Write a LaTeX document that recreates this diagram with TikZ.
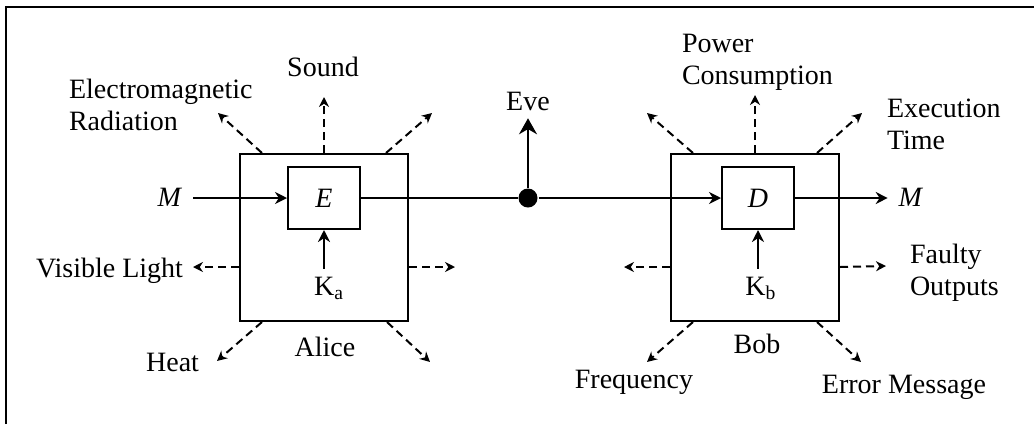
\documentclass[tikz,border=0pt]{standalone}
\usepackage{fontspec}
\setmainfont{Liberation Serif}
\usetikzlibrary{arrows.meta}
\usetikzlibrary{positioning}

\begin{document}
\begin{tikzpicture}[x=0.5pt, y=-0.5pt, line width=1pt,
    font=\fontsize{14}{16}\selectfont,
    party/.style={rectangle, draw, inner sep=0pt, minimum width=84pt, minimum height=83.5pt},
    cipher/.style={rectangle, draw, inner sep=0pt, minimum width=36pt, minimum height=31pt},
    lbl/.style={inner sep=0pt, align=left},
    tag/.style={inner xsep=5pt, inner ysep=3.5pt},
    flow/.style={-{Stealth[length=6pt, width=6pt]}},
    tapflow/.style={-{Stealth[length=8pt, width=9pt]}},
    leak/.style={dash pattern=on 4pt off 2.5pt, -{Stealth[length=5pt, width=5pt]}}]
    \useasboundingbox (0,0) rectangle (1034,424);
    \draw (6,424) -- (6,7) -- (1034,7);

    \node[party] (alice) at (324,237.5) {};
    \node[party] (bob) at (755,237.5) {};
    \node[cipher] (enc) at (324,198) {\textit{E}};
    \node[cipher] (dec) at (758,198) {\textit{D}};
    \node[circle, fill, inner sep=0pt, minimum size=9.5pt] (tap) at (528,198) {};

    \node[tag, anchor=base] (min) at (170,206) {\textit{M}};
    \node[tag, anchor=base] (mout) at (911,206) {\textit{M}};
    \node[tag, anchor=base] (eve) at (528,110) {Eve};
    \node[tag, anchor=base] (ka) at (329,295) {K\textsubscript{a}};
    \node[tag, anchor=base] (kb) at (761,295) {K\textsubscript{b}};
    \node[lbl, anchor=base] (alicename) at (325,356) {Alice};
    \node[lbl, anchor=base] (bobname) at (757,353) {Bob};

    \draw[flow] (min.east |- enc) -- (enc);
    \draw (enc) -- (tap);
    \draw[flow] (tap) -- (dec);
    \draw[flow] (dec) -- (mout.west |- dec);
    \draw[tapflow] (tap) -- (tap |- eve.south);
    \draw[flow] (ka.north -| enc) -- (enc);
    \draw[flow] (kb.north -| dec) -- (dec);

    % side channels of Alice
    \coordinate (a1) at (218,113);
    \coordinate (a2) at (324,97);
    \coordinate (a3) at (432,113);
    \coordinate (a4) at (193,267);
    \coordinate (a5) at (455,267);
    \coordinate (a6) at (217,361);
    \coordinate (a7) at (430,362);
    \draw[leak] ([xshift=11.5pt]alice.north west) -- (a1);
    \draw[leak] (alice.north) -- (a2);
    \draw[leak] ([xshift=-11.5pt]alice.north east) -- (a3);
    \draw[leak] ([yshift=-14.75pt]alice.west) -- (a4);
    \draw[leak] ([yshift=-14.75pt]alice.east) -- (a5);
    \draw[leak] ([xshift=11.5pt]alice.south west) -- (a6);
    \draw[leak] ([xshift=-11pt]alice.south east) -- (a7);
    \node[lbl, anchor=north west] (emr) at (68,78) {Electromagnetic\\Radiation};
    \node[lbl, anchor=base] (sound) at (323,76) {Sound};
    \node[lbl, anchor=base east] (light) at (184,277) {Visible Light};
    \node[lbl, anchor=base east] (heat) at (200,371) {Heat};

    % side channels of Bob
    \coordinate (b1) at (647,113);
    \coordinate (b2) at (755,95);
    \coordinate (b3) at (862,113);
    \coordinate (b4) at (624,267);
    \coordinate (b5) at (886,266);
    \coordinate (b6) at (647,362);
    \coordinate (b7) at (861,362);
    \draw[leak] ([xshift=11.5pt]bob.north west) -- (b1);
    \draw[leak] (bob.north) -- (b2);
    \draw[leak] ([xshift=-11.5pt]bob.north east) -- (b3);
    \draw[leak] ([yshift=-14.75pt]bob.west) -- (b4);
    \draw[leak] ([yshift=-14.75pt]bob.east) -- (b5);
    \draw[leak] ([xshift=11.5pt]bob.south west) -- (b6);
    \draw[leak] ([xshift=-11.5pt]bob.south east) -- (b7);
    \node[lbl, anchor=north west] (power) at (681,33) {Power\\Consumption};
    \node[lbl, anchor=north west] (exectime) at (886,98) {Execution\\Time};
    \node[lbl, anchor=north west] (faulty) at (909,243) {Faulty\\Outputs};
    \node[lbl, anchor=base] (freq) at (634,388) {Frequency};
    \node[lbl, anchor=base] (errmsg) at (904,393) {Error Message};
\end{tikzpicture}
\end{document}
